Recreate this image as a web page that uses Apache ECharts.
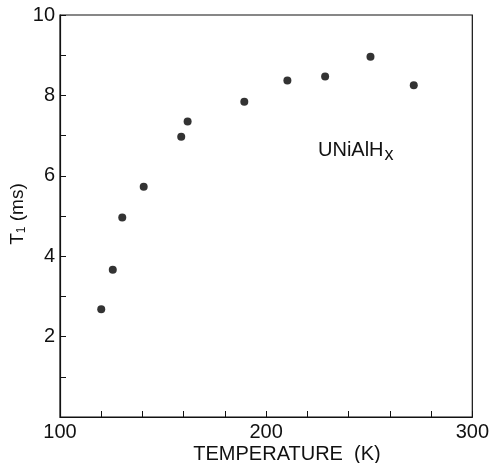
<!DOCTYPE html>
<html>
<head>
<meta charset="utf-8">
<script src="https://cdn.jsdelivr.net/npm/echarts@6/dist/echarts.min.js"></script>
<style>
  html, body { margin: 0; padding: 0; background: #fff; }
  #main { width: 492px; height: 463px; }
</style>
</head>
<body>
<div id="main"></div>
<script>
// T1 of UNiAlHx vs temperature
const temperature = [120, 125.6, 130.2, 140.6, 158.8, 161.9, 189.4, 210.3, 228.6, 250.6, 271.6];
const t1 = [2.68, 3.66, 4.96, 5.73, 6.97, 7.35, 7.84, 8.37, 8.47, 8.96, 8.25];
const xTickLabels = [100, 200, 300];
const yTickLabels = [2, 4, 6, 8, 10];

const font = 'Liberation Sans';
const ink = '#111';

const chart = echarts.init(document.getElementById('main'));
chart.setOption({
  animation: false,
  backgroundColor: '#fff',
  grid: {
    left: 60, right: 17, top: 15, bottom: 46,
    show: true, borderColor: ink, borderWidth: 1.2, backgroundColor: 'transparent',
  },
  xAxis: {
    type: 'value',
    min: 100,
    max: 300,
    interval: 20,
    axisLine: { lineStyle: { color: ink, width: 1.2 } },
    axisTick: { inside: true, length: 6, lineStyle: { color: ink } },
    splitLine: { show: false },
    axisLabel: {
      color: ink, fontFamily: font, fontSize: 20, margin: 5,
      formatter: v => (xTickLabels.includes(v) ? String(v) : ''),
    },
  },
  yAxis: {
    type: 'value',
    min: 0,
    max: 10,
    interval: 1,
    axisLine: { lineStyle: { color: ink, width: 1.2 } },
    axisTick: { inside: true, length: 6, lineStyle: { color: ink } },
    splitLine: { show: false },
    axisLabel: {
      color: ink, fontFamily: font, fontSize: 20, margin: 5,
      formatter: v => (yTickLabels.includes(v) ? String(v) : ''),
    },
  },
  graphic: [
    {
      type: 'text',
      x: 287, y: 454,
      style: {
        text: 'TEMPERATURE  (K)',
        font: '20px "Liberation Sans"',
        fill: ink,
        align: 'center',
        verticalAlign: 'middle',
      },
    },
    {
      type: 'text',
      x: 18, y: 214,
      rotation: Math.PI / 2,
      style: {
        text: '{a|T}{s|1}{a| (ms)}',
        align: 'center',
        verticalAlign: 'middle',
        rich: {
          a: { font: '19px "Liberation Sans"', fill: ink },
          s: { font: '12px "Liberation Sans"', fill: ink, padding: [8, 0, 0, 0] },
        },
      },
    },
    {
      type: 'text',
      x: 318, y: 150,
      style: {
        text: '{a|UNiAlH}{s|x}',
        align: 'left',
        verticalAlign: 'middle',
        rich: {
          a: { font: '20px "Liberation Sans"', fill: ink },
          s: { font: '18px "Liberation Sans"', fill: ink, padding: [11, 0, 0, 1] },
        },
      },
    },
  ],
  series: [
    {
      type: 'scatter',
      data: temperature.map((t, i) => [t, t1[i]]),
      symbol: 'circle',
      symbolSize: 8,
      itemStyle: { color: '#000' },
    },
  ],
});
</script>
</body>
</html>
